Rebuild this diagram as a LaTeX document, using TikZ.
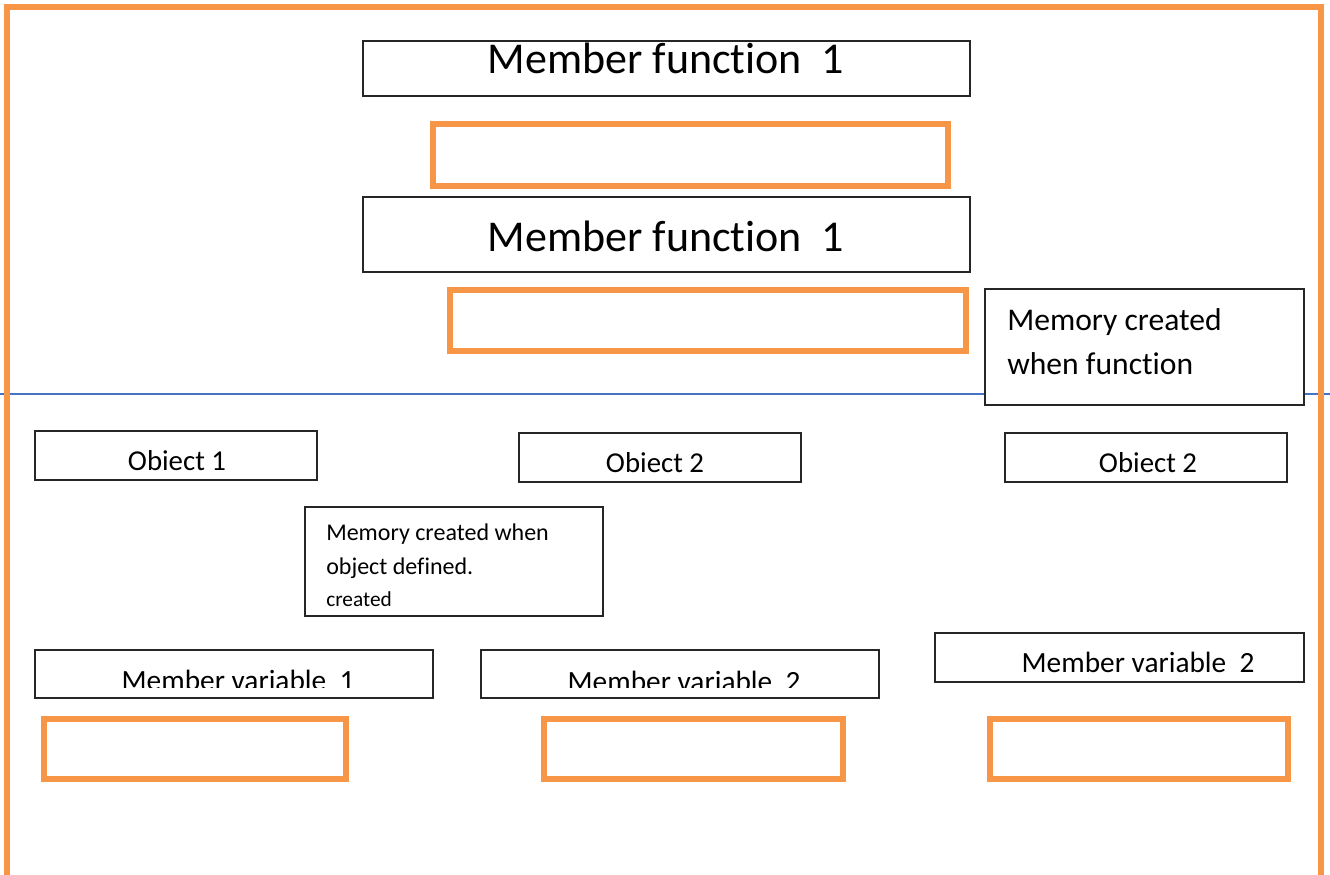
\documentclass[tikz,border=0pt]{standalone}
\usepackage{fontspec}
\setmainfont{Carlito}[Ligatures=CommonOff]
\usetikzlibrary{fit}

\definecolor{frameorange}{RGB}{247,150,70}
\definecolor{lineblue}{RGB}{68,114,196}

\tikzset{
  blackbox/.style={draw=black!85, line width=1pt, fill=white, inner sep=0pt},
  slotbox/.style={draw=frameorange, line width=4.5pt, inner sep=0pt},
  funclabel/.style={anchor=base, font=\fontsize{33}{40}\selectfont},
  objlabel/.style={anchor=base, font=\fontsize{21.6}{26}\selectfont},
  varlabel/.style={anchor=base, font=\fontsize{22}{26}\selectfont},
  % base of a two-line note is its last line
  notelabel/.style={anchor=base west, align=left, inner sep=0pt},
}

\begin{document}
\begin{tikzpicture}[x=0.75pt,y=-0.75pt]
  \useasboundingbox (0,0) rectangle (1330,874);

  % separator between the function part and the object part
  \coordinate (sepL) at (0,394);
  \coordinate (sepR) at (1330,394);
  \draw[lineblue, line width=1.5pt] (sepL) -- (sepR);

  % outer frame, open at the bottom
  \draw[frameorange, line width=4.5pt, line join=miter]
    (7,890) -- (7,7.5) -- (1321,7.5) -- (1321,890);

  % member functions with their slots
  \node (func1) [blackbox, fit={(363,41) (970,96)}] {};
  \node (func1txt) [funclabel] at (666,74) {Member function\ \ 1};
  \node (fslot1) [slotbox, fit={(433,124) (948,186)}] {};
  \node (func2) [blackbox, fit={(363,197) (970,272)}] {};
  \node (func2txt) [funclabel] at (666,251) {Member function\ \ 1};
  \node (fslot2) [slotbox, fit={(450,290) (966,351)}] {};

  % note on function memory
  \node (fnote) [blackbox, fit={(985,289) (1304,405)}] {};
  \node (fnotetxt) [notelabel, font=\fontsize{23.7}{33}\selectfont]
    at (1007,374) {Memory created\\when function};

  % objects
  \node (obj1) [blackbox, fit={(35,431) (317,480)}] {};
  \node (obj1txt) [objlabel] at (177,470) {Obiect 1};
  \node (obj2) [blackbox, fit={(519,433) (801,482)}] {};
  \node (obj2txt) [objlabel] at (655,472) {Obiect 2};
  \node (obj3) [blackbox, fit={(1005,433) (1287,482)}] {};
  \node (obj3txt) [objlabel] at (1148,472) {Obiect 2};

  % note on object memory
  \node (onote) [blackbox, fit={(305,507) (603,616)}] {};
  \node (onotetxt) [notelabel, font=\fontsize{18}{25.5}\selectfont]
    at (326,574) {Memory created when\\object defined.};
  \node (onotesub) [notelabel, font=\fontsize{16}{19}\selectfont]
    at (326,606) {created};

  % member variables, text cut off at the lower margin
  \node (var1) [blackbox, fit={(35,650) (433,698)}] {};
  \node (var2) [blackbox, fit={(481,650) (879,698)}] {};
  \begin{scope}
    \clip (35,650) rectangle (879,687);
    \node (var1txt) [varlabel] at (238,690) {Member variable\ \ 1};
    \node (var2txt) [varlabel] at (684,691) {Member variable\ \ 2};
  \end{scope}
  \node (var3) [blackbox, fit={(935,633) (1304,682)}] {};
  \node (var3txt) [varlabel] at (1138,672) {Member variable\ \ 2};

  % variable slots
  \node (vslot1) [slotbox, fit={(44,719) (346,779)}] {};
  \node (vslot2) [slotbox, fit={(544,719) (843,779)}] {};
  \node (vslot3) [slotbox, fit={(990,719) (1288,779)}] {};
\end{tikzpicture}
\end{document}
